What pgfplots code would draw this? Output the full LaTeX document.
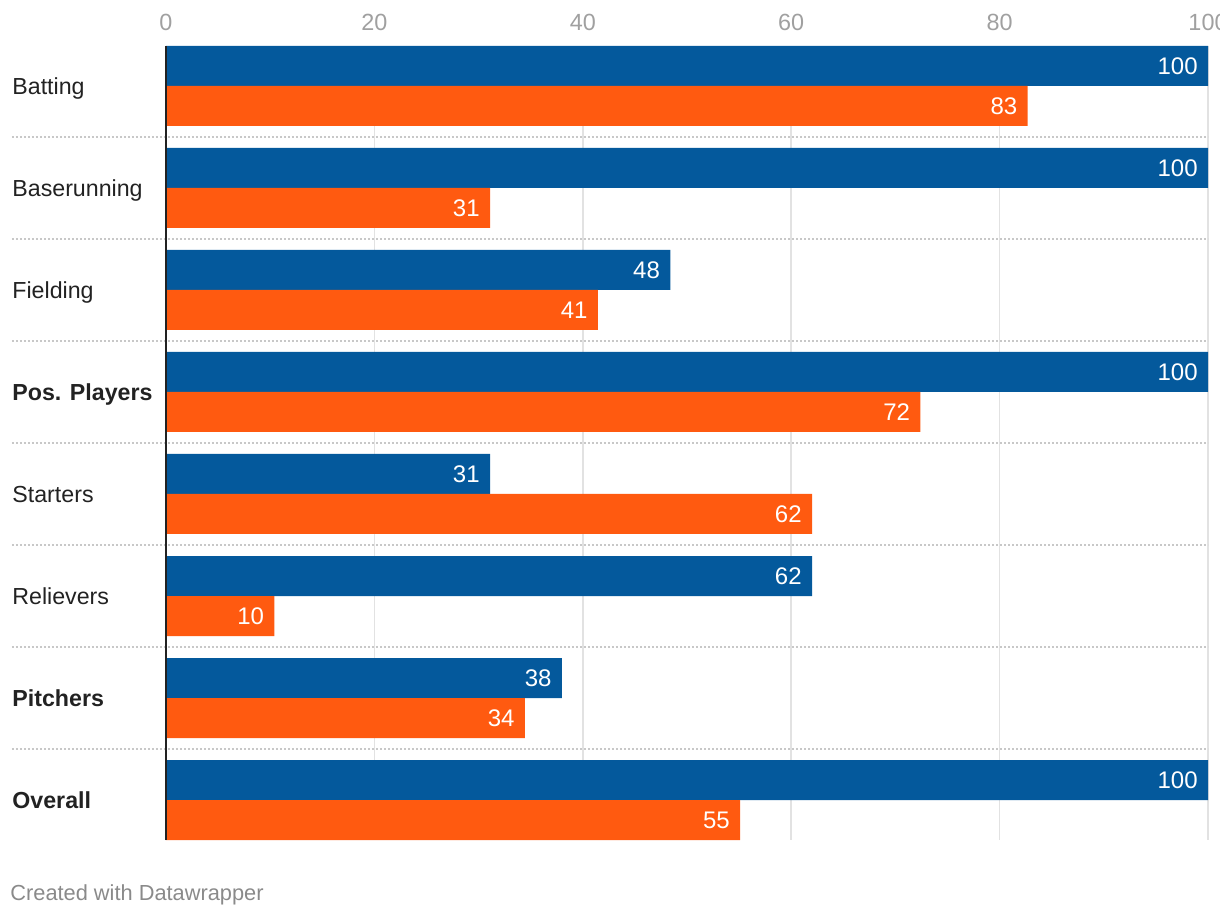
\documentclass[border=0pt]{standalone}
\usepackage{pgfplots}
\pgfplotsset{compat=1.18}
\usepackage{fontspec}
\setmainfont{Liberation Sans}
\definecolor{dwblue}{HTML}{04599C}
\definecolor{dworange}{HTML}{FF5A10}
\definecolor{gridgray}{HTML}{E2E2E2}
\definecolor{dotgray}{HTML}{C8C8C8}
\definecolor{tickgray}{HTML}{A0A0A0}
\definecolor{labdark}{HTML}{222222}
\definecolor{footgray}{HTML}{8A8A8A}
\begin{document}
\begin{tikzpicture}
\useasboundingbox (-83pt,-38pt) rectangle (527pt,420pt);
\begin{axis}[
  at={(0,0)}, anchor=south west,
  scale only axis,
  width=521pt, height=397pt,
  xmin=0, xmax=100,
  ymin=-0.392, ymax=7.392,
  xbar, bar width=20pt,
  axis line style={draw=none},
  major tick length=0pt,
  xtick={0,20,40,60,80,100},
  xticklabel pos=upper,
  xmajorgrids,
  grid style={gridgray, line width=0.75pt},
  ytick={0,1,2,3,4,5,6,7},
  yticklabels={\textbf{Overall},\textbf{Pitchers},Relievers,Starters,\textbf{Pos. Players},Fielding,Baserunning,Batting},
  /pgf/number format/assume math mode=true,
  xticklabel style={tickgray, font=\fontsize{11.7}{14}\selectfont, inner sep=0pt, anchor=south, yshift=7.5pt},
  yticklabel style={labdark, font=\fontsize{11.6}{14}\selectfont, inner sep=0pt, anchor=base west, xshift=-77pt, yshift=-4.2pt},
  nodes near coords={\pgfmathprintnumber[fixed,precision=0]{\pgfplotspointmeta}},
  point meta=x,
  every node near coord/.append style={white, font=\fontsize{12}{14}\selectfont, anchor=east, inner sep=0pt, xshift=-5pt},
  clip=false,
]
\addplot[draw=none, fill=dwblue, bar shift=10pt] coordinates {
  (100,7) (100,6) (48.4,5) (100,4) (31.1,3) (62,2) (38,1) (100,0)
};
\addplot[draw=none, fill=dworange, bar shift=-10pt] coordinates {
  (82.7,7) (31.1,6) (41.45,5) (72.4,4) (62,3) (10.4,2) (34.45,1) (55.1,0)
};
\pgfplotsinvokeforeach{0.5,1.5,2.5,3.5,4.5,5.5,6.5}{
  \draw[dotgray, line width=1pt, dash pattern=on 1pt off 1pt] (axis cs:-14.78,#1) -- (axis cs:100,#1);
}
\draw[labdark, line width=1pt] (axis cs:0,-0.392) -- (axis cs:0,7.392);
\end{axis}
\node[anchor=base west, inner sep=0pt, footgray, font=\fontsize{10.9}{13}\selectfont] at (-78pt,-30pt) {Created with Datawrapper};
\end{tikzpicture}
\end{document}
